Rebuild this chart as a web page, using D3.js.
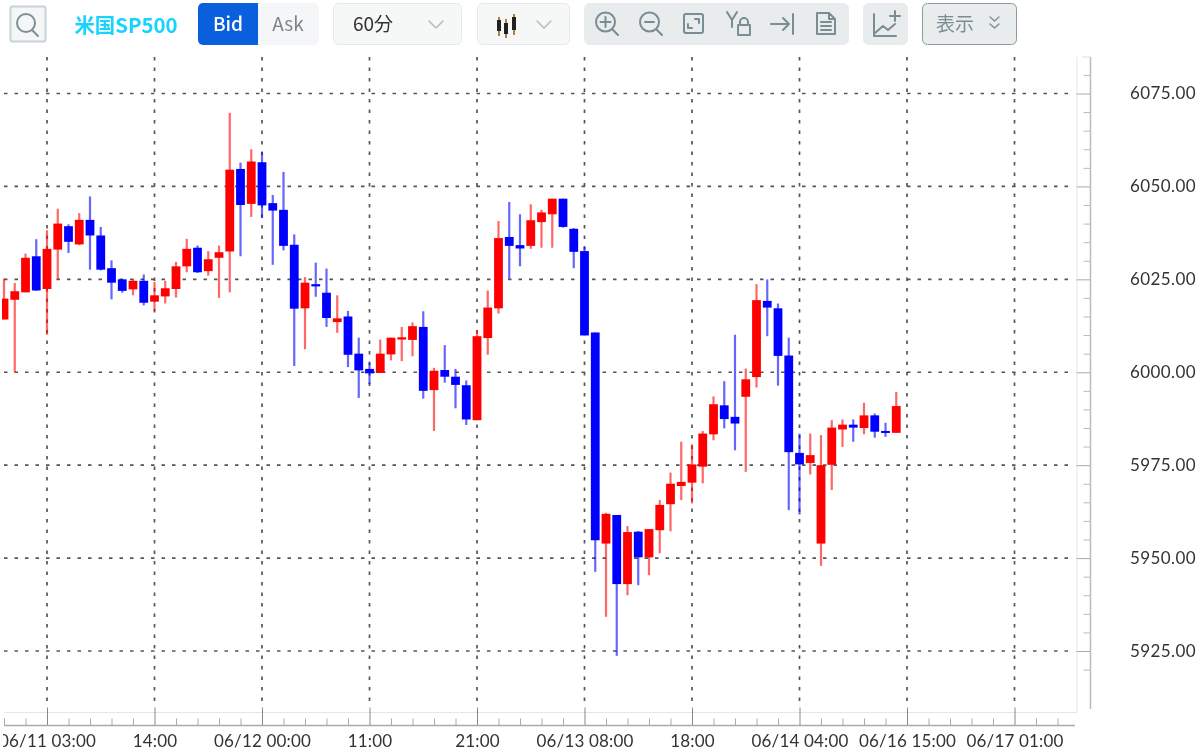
<!DOCTYPE html>
<html>
<head>
<meta charset="utf-8">
<script src="https://cdn.jsdelivr.net/npm/d3@7"></script>
<style>
  html, body { margin: 0; padding: 0; background: #fff; overflow: hidden; }
  svg { display: block; filter: blur(0.45px); }
  .axis text { font-family: Lato, sans-serif; fill: #333; }
  .tb { font-family: "Noto Sans CJK JP", "Noto Sans", sans-serif; }
  .icon { fill: none; stroke: #7a8c94; stroke-width: 2; stroke-linecap: round; stroke-linejoin: round; }
</style>
</head>
<body>
<svg width="1200" height="749"></svg>
<script>
const opens = [6014.2,6019.5,6021.5,6031.2,6022.4,6033,6039.3,6034.4,6041,6036.8,6028,6025,6022.3,6024.6,6019,6020.4,6022.4,6028.5,6033.5,6027.2,6030.8,6032.5,6054.7,6045.3,6056.5,6045.5,6043.7,6034.3,6017.2,6023.7,6021.4,6013.5,6015,6005,6000.9,5999.8,6004.8,6008.8,6008.7,6012.2,5995.2,6000.6,5998.8,5996.5,5987.1,6009.2,6017.2,6036.4,6034.2,6034,6040.4,6042.5,6046.7,6038.6,6032.6,6010.7,5953.9,5961.6,5943,5957.1,5950.2,5957.5,5964.5,5969.4,5970.3,5974.6,5983.3,5991.1,5988,5993.4,5998.7,6019.2,6017.2,6004.5,5978.3,5975.6,5953.9,5975.1,5984.6,5985.9,5985,5988.4,5984.2,5983.7]
const highs = [6025.2,6024,6031.9,6035.8,6038.2,6044,6039.8,6042.8,6047.3,6039.1,6030.1,6025,6025,6026.3,6024.3,6024.6,6029.7,6035.9,6034.1,6032.6,6034.1,6069.8,6056.4,6060,6059.2,6047.7,6053.9,6037.1,6025.6,6029.5,6027.9,6020.7,6016.5,6009.3,6002.5,6008.8,6009.3,6012.2,6013.4,6016.4,6001.2,6007.3,6000.9,5997.8,6011.3,6022,6040.7,6045.8,6042.5,6045.2,6043.7,6046.7,6046.7,6038.8,6033.7,6010.7,5962.2,5961.6,5958.6,5957.3,5957.8,5965.6,5973,5981.3,5980.6,5984.2,5993.5,5997.6,6010.1,6001,6023.7,6025,6018.5,6009.3,5983.5,5983.5,5983.1,5987.1,5987.3,5987.3,5991.8,5988.9,5986.4,5994.7]
const lows = [6014.2,6000,6021.5,6021.9,6010.1,6025,6032.1,6034.2,6027.6,6027.4,6019.6,6021.4,6020.7,6018,6016.5,6018.5,6020.1,6026.9,6026.7,6026,6020,6021.5,6031.2,6041.8,6041.6,6028.9,6032.8,6001.7,6006.2,6020.3,6012.2,6010.6,6001.4,5993.1,5996.8,5999.8,6003.2,6003,6004.3,5992.9,5984.2,5997.2,5990.3,5985.8,5987.1,6004.7,6015.8,6025.2,6028.5,6033.2,6033.5,6033.5,6038.9,6028,6009.9,5946.3,5934.2,5923.7,5940,5942.7,5945.4,5951.3,5957.2,5965.6,5964.7,5970.1,5981.7,5984.9,5979,5973.2,5995.9,6009.7,5996.4,5962.9,5961.7,5972.5,5947.9,5968.3,5979.9,5981.3,5983.3,5982.4,5982.6,5983.7]
const closes = [6019.8,6021.8,6030.8,6022,6033.2,6040,6035.1,6041,6036.8,6027.6,6024.1,6021.9,6024.6,6018.7,6020.7,6022.6,6028.5,6033.2,6026.9,6030.4,6032.3,6054.5,6045,6056.7,6044.9,6043.5,6034,6017.1,6024.1,6023.1,6014.6,6014.5,6004.7,6000.5,5999.7,6005,6009.3,6009.4,6012.4,5995,6000.4,5998.8,5996.6,5987.3,6009.7,6017.4,6036.1,6034,6033.3,6040.9,6043,6046.7,6039.1,6032.4,6009.9,5954.8,5961.9,5943,5957,5950.2,5957.8,5964.3,5970,5970.5,5975.2,5983.5,5991.4,5987.4,5986.2,5998.1,6019.4,6017.4,6004.4,5978.5,5975.2,5977.7,5975,5985.1,5985.9,5985.1,5988.4,5984,5983.7,5990.9]
const priceTicks = [5925, 5950, 5975, 6000, 6025, 6050, 6075]
const timeTickIndex = [4, 14, 24, 34, 44, 54, 64, 74, 84, 94]
const timeLabels = ['06/11 03:00', '14:00', '06/12 00:00', '11:00', '21:00', '06/13 08:00', '18:00', '06/14 04:00', '06/16 15:00', '06/17 01:00']

const svg = d3.select('svg')

const xScale = d3.scaleLinear().domain([4, 84]).range([47, 907])
const yScale = d3.scaleLinear().domain([5925, 6075]).range([651, 93.5])

const plotLeft = 4
const plotRight = 1077
const plotTop = 57
const plotBottom = 707
const axisY = 725.5
const axisX = 1090.5

svg.append('defs').append('clipPath').attr('id', 'plot-clip')
  .append('rect').attr('x', 2).attr('y', 50).attr('width', 1075).attr('height', 660)

// grid
const grid = svg.append('g').attr('stroke', '#555').attr('stroke-width', 1.7).attr('stroke-dasharray', '3.5 7')
grid.selectAll('.h').data(priceTicks).join('line').attr('class', 'h')
  .attr('x1', plotLeft).attr('x2', plotRight - 4)
  .attr('y1', yScale).attr('y2', yScale)
grid.selectAll('.v').data(timeTickIndex).join('line').attr('class', 'v')
  .attr('x1', xScale).attr('x2', xScale)
  .attr('y1', plotTop).attr('y2', plotBottom)

svg.append('line').attr('x1', plotLeft).attr('x2', plotRight).attr('y1', 712.5).attr('y2', 712.5).attr('stroke', '#e6e6e6')
svg.append('line').attr('x1', plotRight).attr('x2', plotRight).attr('y1', plotTop).attr('y2', 712).attr('stroke', '#e6e6e6')

// candles
const candles = d3.range(opens.length)
const colour = i => closes[i] > opens[i] ? '#ff0000' : '#0000ff'
const marks = svg.append('g').attr('clip-path', 'url(#plot-clip)')

marks.append('g').selectAll('line').data(candles).join('line')
  .attr('x1', xScale).attr('x2', xScale)
  .attr('y1', i => yScale(highs[i])).attr('y2', i => yScale(lows[i]))
  .attr('stroke', colour).attr('stroke-opacity', 0.6).attr('stroke-width', 2.2)

marks.append('g').selectAll('rect').data(candles).join('rect')
  .attr('x', i => xScale(i) - 4.4).attr('width', 8.8)
  .attr('y', i => yScale(Math.max(opens[i], closes[i])))
  .attr('height', i => Math.max(2, Math.abs(yScale(opens[i]) - yScale(closes[i]))))
  .attr('fill', colour)

// axes
const xMinor = svg.append('g').attr('transform', `translate(0,${axisY})`)
  .call(d3.axisBottom(xScale).tickValues(d3.range(0, 99, 2).filter(d => d % 10 !== 4)).tickSize(-7).tickFormat(''))
xMinor.selectAll('line').attr('stroke', '#aaa')
xMinor.select('.domain').remove()

const xAxisGroup = svg.append('g').attr('class', 'axis')
  .attr('transform', `translate(0,${axisY})`)
  .call(d3.axisBottom(xScale).tickValues(timeTickIndex).tickSizeOuter(0)
    .tickFormat((d, i) => timeLabels[i]))
xAxisGroup.select('.domain').remove()
xAxisGroup.selectAll('line').attr('y2', -18).attr('stroke', '#888')
xAxisGroup.selectAll('text').attr('font-size', 17).attr('letter-spacing', 0.15).attr('y', 16).attr('dy', '0.35em')

// the first label runs under the left edge of the plot
svg.append('rect').attr('x', 0).attr('y', 730).attr('width', 3).attr('height', 19).attr('fill', '#fff')

svg.append('line').attr('x1', plotLeft).attr('x2', 1075).attr('y1', axisY).attr('y2', axisY).attr('stroke', '#aaa').attr('stroke-width', 1.5)

const yMinor = svg.append('g').attr('transform', `translate(${axisX},0)`)
  .call(d3.axisLeft(yScale).tickValues(d3.range(5920, 6081, 5).filter(d => d % 25 !== 0)).tickSize(7).tickFormat(''))
yMinor.select('.domain').remove()
yMinor.selectAll('line').attr('stroke', '#bbb')

const yAxisGroup = svg.append('g').attr('class', 'axis').attr('transform', `translate(${axisX},0)`)
  .call(d3.axisLeft(yScale).tickValues(priceTicks).tickSize(14).tickFormat(''))
yAxisGroup.select('.domain').remove()
yAxisGroup.selectAll('line').attr('stroke', '#aaa')
svg.append('line').attr('x1', axisX).attr('x2', axisX).attr('y1', plotTop).attr('y2', 709).attr('stroke', '#bbb').attr('stroke-width', 1.5)
svg.append('line').attr('x1', 1082).attr('x2', axisX).attr('y1', plotTop).attr('y2', plotTop).attr('stroke', '#ddd')

svg.append('g').attr('class', 'axis').selectAll('text').data(priceTicks).join('text')
  .attr('x', 1196).attr('y', yScale).attr('dy', '0.35em').attr('text-anchor', 'end')
  .attr('font-size', 17).attr('letter-spacing', 0.4).text(d => d.toFixed(2))

// toolbar
const tb = svg.append('g').attr('class', 'tb')
const box = (x, w, fill, stroke, r = 5, y = 3, h = 41) => tb.append('rect')
  .attr('x', x + 0.5).attr('y', y + 0.5).attr('width', w).attr('height', h).attr('rx', r)
  .attr('fill', fill).attr('stroke', stroke)
const label = (x, y, t, size, fill, weight = 400) => tb.append('text')
  .attr('x', x).attr('y', y).attr('dy', '0.35em').attr('text-anchor', 'middle')
  .attr('font-size', size).attr('fill', fill).attr('font-weight', weight).text(t)

box(10, 35, '#f5f7f7', '#c6d4da', 2, 6, 35).attr('stroke-width', 2)
tb.append('path').attr('class', 'icon').attr('d', 'M32 30 L38 36 M17 23a9 9 0 1 0 18 0a9 9 0 1 0 -18 0').style('stroke', '#7c8f96')
label(126, 25.5, '米国SP500', 20.4, '#19d3ff', 700)

box(198, 120, '#f5f6f7', '#f5f6f7')
tb.append('path').attr('d', 'M258 3 H203 a5 5 0 0 0 -5 5 V40 a5 5 0 0 0 5 5 H258 Z').attr('fill', '#0a5fdc')
label(228, 24.5, 'Bid', 19, '#fff', 500)
label(288, 24.5, 'Ask', 19, '#7d8488')

box(333, 128, '#f6f7f7', '#e4eaec')
label(373, 24.5, '60分', 19, '#333')
tb.append('path').attr('class', 'icon').attr('d', 'M429 21 L436 28 L443 21').style('stroke', '#b4bcc0').style('stroke-width', 1.5)

box(477, 92, '#f6f7f7', '#e4eaec')
tb.append('path').attr('d', 'M499 17 V36 M506 19 V38 M514 14 V35').attr('stroke', '#9a5a10').attr('stroke-width', 1.5)
tb.append('path').attr('d', 'M497 20 h4 v11 h-4 Z M504 23 h4 v11 h-4 Z M512 17 h4 v13 h-4 Z').attr('fill', '#222')
tb.append('path').attr('class', 'icon').attr('d', 'M537 21 L544 28 L551 21').style('stroke', '#b4bcc0').style('stroke-width', 1.5)

box(584, 264, '#e8ecec', '#e8ecec')
box(863, 44, '#e8ecec', '#e8ecec')
box(922, 94, '#e8ecec', '#8f9a9e')

const icons = tb.append('g')
const icon = d => icons.append('path').attr('class', 'icon').attr('d', d)
icon('M596 22a9.500 9.500 0 1 0 19 0a9.500 9.500 0 1 0 -19 0 M612 29 L618 35 M605.500 17 V27 M600.500 22 H610.500')
icon('M640 22a9.500 9.500 0 1 0 19 0a9.500 9.500 0 1 0 -19 0 M656 29 L662 35 M645 22 H654')
icon('M686 14 H701 a2 2 0 0 1 2 2 V31 a2 2 0 0 1 -2 2 H686 a2 2 0 0 1 -2 -2 V16 a2 2 0 0 1 2 -2 Z M695 19 H699 V23 M692 28 H688 V24')
icon('M727 12 L732 20 L737 12 M732 20 V27 M738 25 H750 V35 H738 Z M740 25 V22 a4 4 0 0 1 8 0 V25')
icon('M771 24 H789 M783 18 L789 24 L783 30 M793 14 V34')
icon('M817 13 H829 L835 19 V34 H817 Z M829 13 V19 H835 M821 22 H831 M821 26 H831 M821 30 H831')
icon('M874 14 V36 H896 M875 33 L883 26 L888 30 L895 24 M890 16 H900 M895 11 V21')

label(955, 24.5, '表示', 19, '#7a8c94')
tb.append('path').attr('class', 'icon').attr('d', 'M990 17 L994.500 21 L999 17 M990 24 L994.500 28 L999 24').style('stroke-width', 1.3)
</script>
</body>
</html>
